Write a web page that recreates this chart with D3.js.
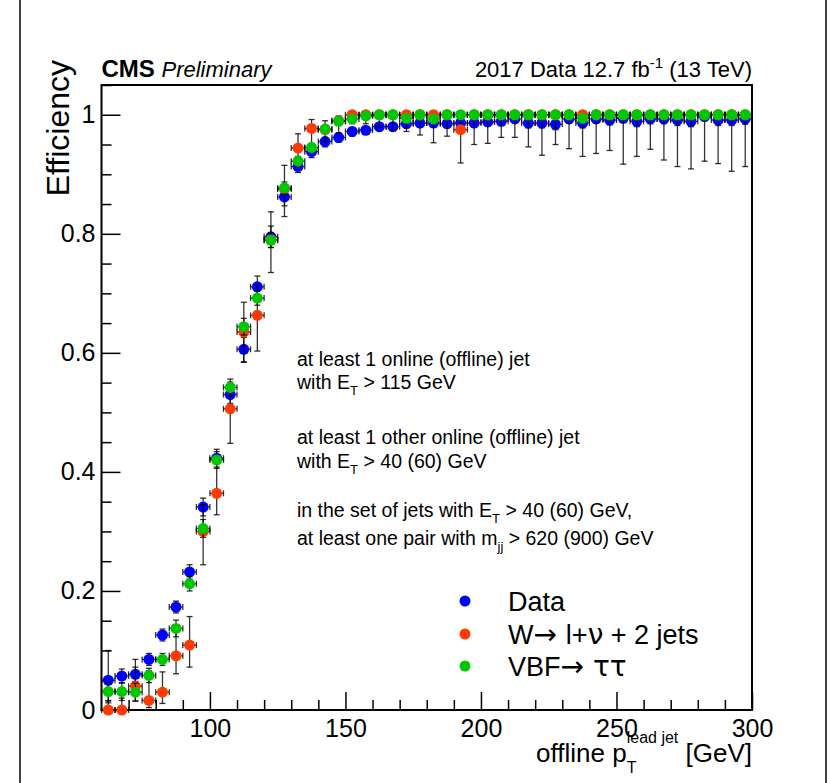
<!DOCTYPE html>
<html>
<head>
<meta charset="utf-8">
<script src="https://cdn.jsdelivr.net/npm/d3@7"></script>
<style>
  body { margin: 0; background: #fff; }
  svg { display: block; font-family: "Liberation Sans", Arial, Helvetica, sans-serif; }
  .sym { font-family: "DejaVu Sans", sans-serif; }
</style>
</head>
<body>
<svg id="chart" width="836" height="783"></svg>
<script>
// bin centres (5 GeV bins)
var binCentres = [62.5, 67.5, 72.5, 77.5, 82.5, 87.5, 92.5, 97.5, 102.5, 107.5, 112.5, 117.5,
  122.5, 127.5, 132.5, 137.5, 142.5, 147.5, 152.5, 157.5, 162.5, 167.5, 172.5, 177.5,
  182.5, 187.5, 192.5, 197.5, 202.5, 207.5, 212.5, 217.5, 222.5, 227.5, 232.5, 237.5,
  242.5, 247.5, 252.5, 257.5, 262.5, 267.5, 272.5, 277.5, 282.5, 287.5, 292.5, 297.5];

// Data
var dataEff = [0.050, 0.057, 0.060, 0.085, 0.126, 0.173, 0.232, 0.341, 0.423, 0.530, 0.606, 0.711,
  0.795, 0.862, 0.913, 0.938, 0.955, 0.962, 0.972, 0.974, 0.980, 0.980, 0.985, 0.986,
  0.986, 0.985, 0.986, 0.986, 0.988, 0.989, 0.993, 0.986, 0.986, 0.984, 0.993, 0.986,
  0.993, 0.991, 0.994, 0.989, 0.993, 0.993, 0.991, 0.989, 0.997, 0.991, 0.991, 0.993];
var dataErrHi = [0.050, 0.012, 0.012, 0.010, 0.010, 0.010, 0.012, 0.015, 0.015, 0.015, 0.020, 0.018,
  0.018, 0.015, 0.010, 0.008, 0.007, 0.006, 0.006, 0.005, 0.005, 0.005, 0.005, 0.005,
  0.005, 0.005, 0.005, 0.005, 0.005, 0.005, 0.004, 0.005, 0.005, 0.005, 0.004, 0.005,
  0.004, 0.004, 0.004, 0.005, 0.004, 0.004, 0.004, 0.005, 0.003, 0.004, 0.004, 0.004];
var dataErrLo = [0.038, 0.012, 0.012, 0.010, 0.010, 0.010, 0.012, 0.015, 0.015, 0.015, 0.022, 0.018,
  0.018, 0.015, 0.010, 0.010, 0.009, 0.008, 0.008, 0.007, 0.007, 0.007, 0.007, 0.007,
  0.007, 0.007, 0.007, 0.007, 0.007, 0.007, 0.006, 0.008, 0.008, 0.009, 0.007, 0.008,
  0.007, 0.008, 0.007, 0.009, 0.008, 0.008, 0.009, 0.009, 0.007, 0.009, 0.009, 0.009];

// W -> l nu + 2 jets
var wjetsEff = [0.000, 0.000, 0.040, 0.016, 0.030, 0.091, 0.109, 0.300, 0.364, 0.506, 0.635, 0.663,
  0.790, 0.875, 0.944, 0.977, 0.975, 0.990, 1.000, 1.000, 1.000, 1.000, 1.000, 1.000,
  1.000, 1.000, 0.975, 1.000, 1.000, 1.000, 1.000, 1.000, 1.000, 1.000, 1.000, 1.000,
  1.000, 1.000, 1.000, 1.000, 1.000, 1.000, 1.000, 1.000, 1.000, 1.000, 1.000, 1.000];
var wjetsErrHi = [0.015, 0.020, 0.045, 0.050, 0.034, 0.050, 0.048, 0.045, 0.060, 0.045, 0.050, 0.050,
  0.047, 0.040, 0.024, 0.015, 0.015, 0.008, 0, 0, 0, 0, 0, 0,
  0, 0, 0.020, 0, 0, 0, 0, 0, 0, 0, 0, 0,
  0, 0, 0, 0, 0, 0, 0, 0, 0, 0, 0, 0];
var wjetsErrLo = [0, 0, 0.025, 0.012, 0.019, 0.030, 0.037, 0.056, 0.036, 0.058, 0.050, 0.060,
  0.055, 0.046, 0.030, 0.030, 0.020, 0.020, 0.015, 0.015, 0.020, 0.025, 0.028, 0.034,
  0.047, 0.036, 0.056, 0.050, 0.048, 0.038, 0.038, 0.054, 0.068, 0.050, 0.057, 0.070,
  0.065, 0.060, 0.083, 0.070, 0.058, 0.076, 0.087, 0.091, 0.078, 0.082, 0.095, 0.087];

// VBF -> tau tau
var vbfEff = [0.031, 0.031, 0.030, 0.058, 0.085, 0.137, 0.212, 0.305, 0.420, 0.542, 0.644, 0.692,
  0.789, 0.877, 0.922, 0.945, 0.976, 0.989, 0.993, 0.998, 1.000, 1.000, 0.994, 1.000,
  0.993, 1.000, 1.000, 1.000, 1.000, 1.000, 1.000, 1.000, 1.000, 1.000, 1.000, 0.994,
  1.000, 1.000, 1.000, 1.000, 1.000, 1.000, 1.000, 1.000, 1.000, 1.000, 1.000, 1.000];
var vbfErrHi = [0.015, 0.015, 0.015, 0.012, 0.010, 0.014, 0.012, 0.015, 0.014, 0.014, 0.014, 0.012,
  0.012, 0.010, 0.008, 0.007, 0.005, 0.004, 0.003, 0.002, 0, 0, 0.003, 0,
  0.003, 0, 0, 0, 0, 0, 0, 0, 0, 0, 0, 0.003,
  0, 0, 0, 0, 0, 0, 0, 0, 0, 0, 0, 0];
var vbfErrLo = [0.015, 0.015, 0.015, 0.012, 0.010, 0.014, 0.012, 0.015, 0.014, 0.014, 0.014, 0.012,
  0.012, 0.010, 0.009, 0.008, 0.006, 0.005, 0.004, 0.004, 0.003, 0.003, 0.005, 0.003,
  0.005, 0.003, 0.003, 0.003, 0.003, 0.003, 0.003, 0.003, 0.003, 0.003, 0.003, 0.005,
  0.003, 0.003, 0.003, 0.003, 0.003, 0.003, 0.003, 0.003, 0.003, 0.003, 0.003, 0.003];

var xMajorTicks = [100, 150, 200, 250, 300];
var xMinorTicks = [70, 80, 90, 110, 120, 130, 140, 160, 170, 180, 190, 210, 220, 230, 240, 260, 270, 280, 290];
var yMajorTicks = [0, 0.2, 0.4, 0.6, 0.8, 1];
var yMinorTicks = [0.05, 0.1, 0.15, 0.25, 0.3, 0.35, 0.45, 0.5, 0.55, 0.65, 0.7, 0.75, 0.85, 0.9, 0.95, 1.05];
// legend entries, split into [text, isSymbol] pieces
var legendLabels = [
  [['Data', false]],
  [['W', false], ['\u2192 ', true], ['l+', false], ['\u03bd', true], [' + 2 jets', false]],
  [['VBF', false], ['\u2192 \u03c4\u03c4', true]]
];
var binHalfWidth = 2.5;

(function () {
  'use strict';
  var COLORS = { data: '#0000ff', wjets: '#ff3a00', vbf: '#00c800' };

  var svg = d3.select('#chart');
  var pLeft = 101.5, pRight = 752, pTop = 85, pBottom = 710;

  var x = d3.scaleLinear().domain([60, 300]).range([pLeft, pRight]);
  var y = d3.scaleLinear().domain([0, 1.05]).range([pBottom, pTop]);

  // outer canvas border
  svg.append('line').attr('x1', 20).attr('x2', 20).attr('y1', 0).attr('y2', 783).attr('stroke', '#000').attr('stroke-width', 1.5);
  svg.append('line').attr('x1', 826).attr('x2', 826).attr('y1', 0).attr('y2', 783).attr('stroke', '#000').attr('stroke-width', 1.5);

  //------------------------------ axes ------------------------------//
  function styleAxis(g) {
    g.select('.domain').remove();
    g.selectAll('line').attr('stroke', '#000').attr('stroke-width', 1.5);
    g.selectAll('text').attr('fill', '#000').style('font-size', '25px');
  }

  svg.append('g')
    .attr('transform', 'translate(0,' + pBottom + ')')
    .call(d3.axisBottom(x).tickValues(xMajorTicks).tickSize(-18).tickPadding(9).tickFormat(d3.format('d')))
    .call(styleAxis);
  svg.append('g')
    .attr('transform', 'translate(0,' + pBottom + ')')
    .call(d3.axisBottom(x).tickValues(xMinorTicks).tickSize(-10).tickFormat(''))
    .call(styleAxis);
  svg.append('g')
    .attr('transform', 'translate(' + pLeft + ',0)')
    .call(d3.axisLeft(y).tickValues(yMajorTicks).tickSize(-19).tickPadding(6).tickFormat(function (d) { return d === 0 || d === 1 ? d : d3.format('.1f')(d); }))
    .call(styleAxis);
  svg.append('g')
    .attr('transform', 'translate(' + pLeft + ',0)')
    .call(d3.axisLeft(y).tickValues(yMinorTicks).tickSize(-10).tickFormat(''))
    .call(styleAxis);

  // frame
  svg.append('rect')
    .attr('x', pLeft).attr('y', pTop)
    .attr('width', pRight - pLeft).attr('height', pBottom - pTop)
    .attr('fill', 'none').attr('stroke', '#000').attr('stroke-width', 2);

  //------------------------------ series ------------------------------//
  function drawSeries(vals, errLo, errHi, color) {
    var g = svg.append('g');
    var cap = 3;
    binCentres.forEach(function (c, i) {
      var v = vals[i];
      var cx = x(c), cy = y(v);
      var eg = g.append('g').attr('stroke', '#000').attr('stroke-width', 1.3).attr('stroke-opacity', 0.8);
      // horizontal bar
      eg.append('line').attr('x1', x(c - binHalfWidth)).attr('x2', x(c + binHalfWidth)).attr('y1', cy).attr('y2', cy);
      eg.append('line').attr('x1', x(c - binHalfWidth)).attr('x2', x(c - binHalfWidth)).attr('y1', cy - cap).attr('y2', cy + cap);
      eg.append('line').attr('x1', x(c + binHalfWidth)).attr('x2', x(c + binHalfWidth)).attr('y1', cy - cap).attr('y2', cy + cap);
      // vertical bar
      if (errHi[i] > 0) {
        eg.append('line').attr('x1', cx).attr('x2', cx).attr('y1', cy).attr('y2', y(v + errHi[i]));
        eg.append('line').attr('x1', cx - cap).attr('x2', cx + cap).attr('y1', y(v + errHi[i])).attr('y2', y(v + errHi[i]));
      }
      if (errLo[i] > 0) {
        eg.append('line').attr('x1', cx).attr('x2', cx).attr('y1', cy).attr('y2', y(v - errLo[i]));
        eg.append('line').attr('x1', cx - cap).attr('x2', cx + cap).attr('y1', y(v - errLo[i])).attr('y2', y(v - errLo[i]));
      }
    });
    g.selectAll('circle.m')
      .data(binCentres)
      .enter().append('circle')
      .attr('class', 'm')
      .attr('cx', function (c) { return x(c); })
      .attr('cy', function (c, i) { return y(vals[i]); })
      .attr('r', 5.5)
      .attr('fill', color);
  }

  drawSeries(dataEff, dataErrLo, dataErrHi, COLORS.data);
  drawSeries(wjetsEff, wjetsErrLo, wjetsErrHi, COLORS.wjets);
  drawSeries(vbfEff, vbfErrLo, vbfErrHi, COLORS.vbf);

  //------------------------------ labels ------------------------------//
  // y title
  svg.append('text')
    .attr('transform', 'translate(69,60) rotate(-90)')
    .attr('text-anchor', 'end')
    .style('font-size', '32px')
    .text('Efficiency');

  // x title: offline p_T^{lead jet} [GeV]
  var base = 762;
  var xt = svg.append('g');
  var t1 = xt.append('text').attr('y', base).style('font-size', '26px').text('offline p');
  var sub = xt.append('text').attr('y', base + 11).style('font-size', '16px').text('T');
  var sup = xt.append('text').attr('y', base - 19).style('font-size', '16px').text('lead jet');
  var t3 = xt.append('text').attr('y', base).style('font-size', '26px').text('\u00a0[GeV]');
  var w1 = t1.node().getComputedTextLength();
  var w2 = Math.max(sub.node().getComputedTextLength(), sup.node().getComputedTextLength());
  var w3 = t3.node().getComputedTextLength();
  var x0 = pRight - (w1 + w2 + w3);
  t1.attr('x', x0);
  sub.attr('x', x0 + w1);
  sup.attr('x', x0 + w1);
  t3.attr('x', x0 + w1 + w2);

  // header
  var head = svg.append('text').attr('x', pLeft).attr('y', 77);
  head.append('tspan').style('font-size', '24px').style('font-weight', 'bold').text('CMS ');
  head.append('tspan').style('font-size', '22px').style('font-style', 'italic').text('Preliminary');

  var lumi = svg.append('text').attr('x', pRight).attr('y', 77).attr('text-anchor', 'end').style('font-size', '22px');
  lumi.append('tspan').text('2017 Data 12.7 fb');
  lumi.append('tspan').attr('dy', -9).style('font-size', '15px').text('-1');
  lumi.append('tspan').attr('dy', 9).text(' (13 TeV)');

  // selection text
  var selLines = [
    { y: 366, parts: [['at least 1 online (offline) jet']] },
    { y: 389, parts: [['with E'], ['T', 'sub'], [' > 115 GeV']] },
    { y: 444, parts: [['at least 1 other online (offline) jet']] },
    { y: 468, parts: [['with E'], ['T', 'sub'], [' > 40 (60) GeV']] },
    { y: 517, parts: [['in the set of jets with E'], ['T', 'sub'], [' > 40 (60) GeV,']] },
    { y: 545, parts: [['at least one pair with m'], ['jj', 'sub'], [' > 620 (900) GeV']] }
  ];
  selLines.forEach(function (ln) {
    var t = svg.append('text').attr('x', 297).attr('y', ln.y).style('font-size', '19.5px');
    var shifted = false;
    ln.parts.forEach(function (p) {
      var ts = t.append('tspan').text(p[0]);
      if (p[1] === 'sub') {
        ts.attr('dy', 6).style('font-size', '13px');
        shifted = true;
      } else if (shifted) {
        ts.attr('dy', -6);
        shifted = false;
      }
    });
  });

  // legend
  var legColors = [COLORS.data, COLORS.wjets, COLORS.vbf];
  var legY = [601, 634, 666];
  legendLabels.forEach(function (lab, i) {
    svg.append('circle').attr('cx', 465).attr('cy', legY[i]).attr('r', 5.5).attr('fill', legColors[i]);
    var t = svg.append('text').attr('x', 508).attr('y', legY[i] + 10).style('font-size', '27px').attr('xml:space', 'preserve');
    lab.forEach(function (p) {
      var ts = t.append('tspan').text(p[0]);
      if (p[1]) ts.attr('class', 'sym').style('font-size', '28px');
    });
  });
})();
</script>
</body>
</html>
